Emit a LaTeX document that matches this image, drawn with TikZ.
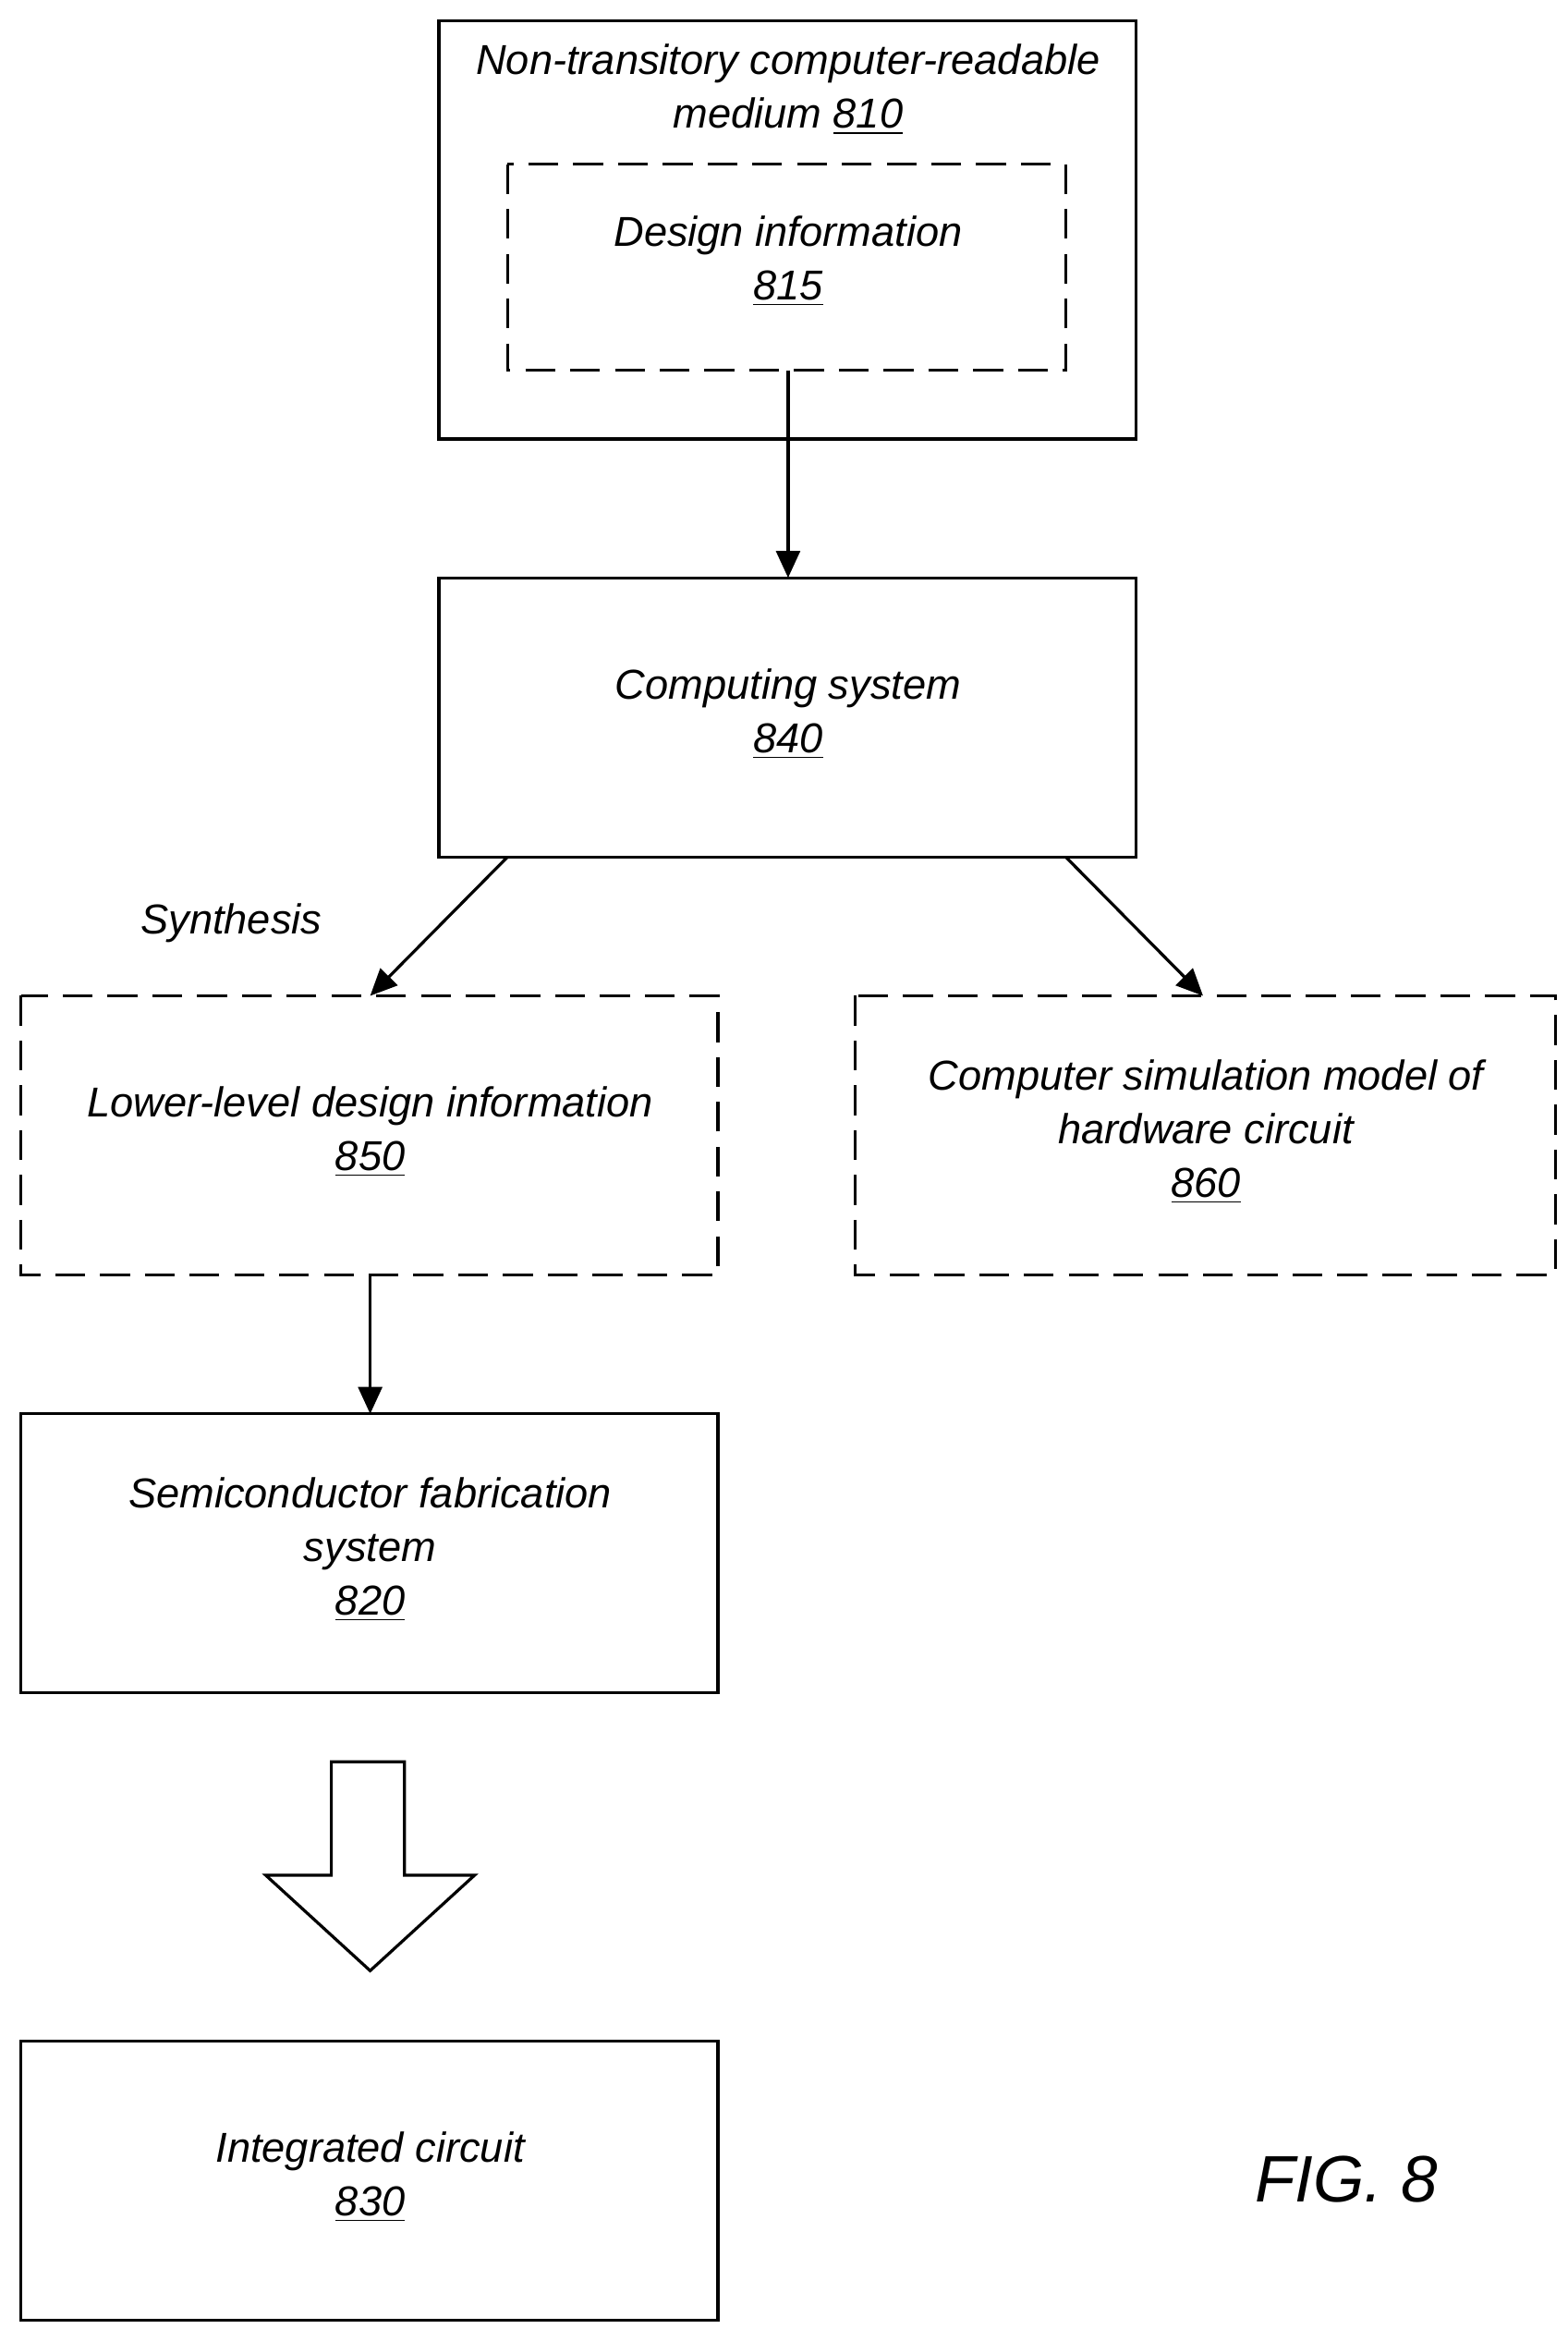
\documentclass[tikz,border=0pt]{standalone}
\usepackage{fontspec}
\setmainfont{Liberation Sans}
\usetikzlibrary{arrows.meta}
\begin{document}
\begin{tikzpicture}[x=0.5pt,y=-0.5pt,
  box/.style={draw,line width=1pt},
  dbox/.style={draw,line width=1pt,dash pattern=on 10pt off 5pt},
  lbl/.style={font=\fontsize{14}{18}\selectfont\itshape,align=center,inner sep=0pt},
  arr/.style={line width=1pt,-{Triangle[length=9pt,width=8pt]}}]
\useasboundingbox (0,0) rectangle (1050,1560);
\draw[box] (294,14) rectangle (761,294);
\node[lbl] (t810) at (528,60) {Non-transitory computer-readable\\medium \underline{810}};
\draw[dbox] (340,110) rectangle (714,248);
\coordinate (b815) at (528,248);
\node[lbl] (t815) at (528,175) {Design information\\\underline{815}};
\draw[box] (294,387) rectangle (761,574);
\coordinate (t840top) at (528,387);
\node[lbl] (t840) at (528,478) {Computing system\\\underline{840}};
\draw[dbox] (14,667) rectangle (481,854);
\node[lbl] (t850) at (248,758) {Lower-level design information\\\underline{850}};
\draw[dbox] (573,667) rectangle (1042,854);
\node[lbl] (t860) at (808,758) {Computer simulation model of\\hardware circuit\\\underline{860}};
\draw[box] (14,947) rectangle (481,1134);
\node[lbl] (t820) at (248,1038) {Semiconductor fabrication\\system\\\underline{820}};
\draw[box] (14,1367) rectangle (481,1554);
\node[lbl] (t830) at (248,1458) {Integrated circuit\\\underline{830}};
\node[lbl] (syn) at (155,618) {Synthesis};
\node[font=\fontsize{22}{26}\selectfont\itshape,inner sep=0pt] (fig) at (902,1460) {FIG. 8};
\coordinate (a1) at (340,574); \coordinate (a1e) at (248,667);
\coordinate (a2) at (714,574); \coordinate (a2e) at (806,667);
\coordinate (a3) at (248,854); \coordinate (a3e) at (248,947);
\draw[arr] (b815) -- (t840top);
\draw[arr] (a1) -- (a1e);
\draw[arr] (a2) -- (a2e);
\draw[arr] (a3) -- (a3e);
\draw[line width=1pt] (222,1180) -- (271,1180) -- (271,1256) -- (318,1256) -- (248,1320) -- (178,1256) -- (222,1256) -- cycle;
\end{tikzpicture}
\end{document}
